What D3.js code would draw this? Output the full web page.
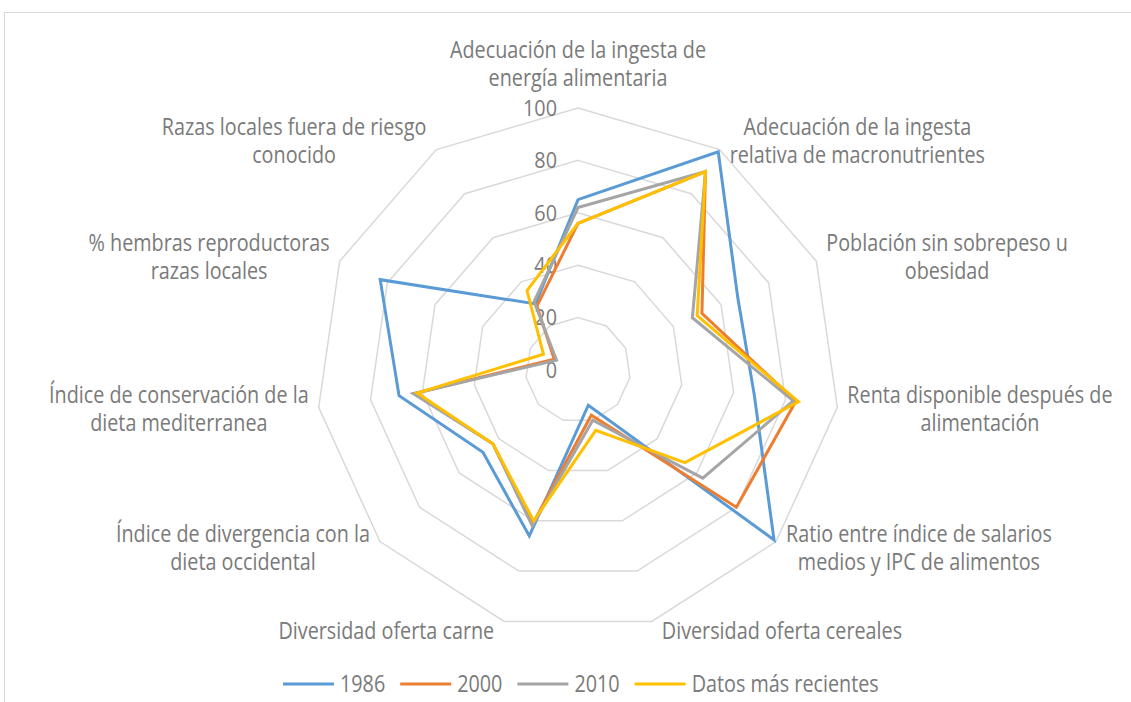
<!DOCTYPE html>
<html lang="es">
<head>
<meta charset="UTF-8">
<script src="https://d3js.org/d3.v7.min.js"></script>
<style>
  body { margin: 0; background: #fff; }
  text { font-family: "Open Sans", sans-serif; fill: #7a7a7a; }
</style>
</head>
<body>
<svg id="chart" width="1131" height="702"></svg>
<script>
// categories (each label split into its lines)
var categories = [
  ["Adecuación de la ingesta de", "energía alimentaria"],
  ["Adecuación de la ingesta", "relativa de macronutrientes"],
  ["Población sin sobrepeso u", "obesidad"],
  ["Renta disponible después de", "alimentación"],
  ["Ratio entre índice de salarios", "medios y IPC de alimentos"],
  ["Diversidad oferta cereales"],
  ["Diversidad oferta carne"],
  ["Índice de divergencia con la", "dieta occidental"],
  ["Índice de conservación de la", "dieta mediterranea"],
  ["% hembras reproductoras", "razas locales"],
  ["Razas locales fuera de riesgo", "conocido"]
];
var seriesNames = ["1986", "2000", "2010", "Datos más recientes"];
var v1986     = [65, 99, 67, 68, 99, 14, 66, 48, 69, 83, 30];
var v2000     = [56, 90, 52, 84, 80, 18, 61, 43, 63, 10, 29];
var v2010     = [62, 90, 48, 83, 63, 20, 62, 43, 63.5, 9, 31];
var vRecent   = [56, 90, 50, 85, 54, 24, 60, 43, 62, 14.5, 36];
var ticks = [0, 20, 40, 60, 80, 100];

var colors = ["#5B9BD5", "#ED7D31", "#A5A5A5", "#FFC000"];
var allSeries = [v1986, v2000, v2010, vRecent];

var svg = d3.select("#chart");
var cx = 578, cy = 370;
var r = d3.scaleLinear().domain([0, 100]).range([0, 262]);
var angle = d3.scaleLinear().domain([0, categories.length]).range([0, 2 * Math.PI]);

// narrow text (the original uses a condensed face)
var fs = 23, sx = 0.86;
function addText(parent, x, y, str, anchor, size, scale) {
  var t = parent.append("text")
    .attr("transform", "translate(" + x + "," + y + ") scale(" + scale + ",1)")
    .attr("dy", "0.35em")
    .attr("text-anchor", anchor)
    .style("font-size", size + "px")
    .text(str);
  return t;
}

function pt(i, v) {
  var a = angle(i);
  return [cx + r(v) * Math.sin(a), cy - r(v) * Math.cos(a)];
}

// chart border
svg.append("rect")
  .attr("x", 4.5).attr("y", 12.5)
  .attr("width", 1140).attr("height", 700)
  .attr("fill", "none").attr("stroke", "#d9d9d9");

// grid rings
var line = d3.line();
ticks.forEach(function(t) {
  if (t === 0) return;
  var pts = categories.map(function(c, i) { return pt(i, t); });
  svg.append("path")
    .attr("d", line(pts) + "Z")
    .attr("fill", "none")
    .attr("stroke", "#d9d9d9")
    .attr("stroke-width", 1.5);
});

// tick labels
ticks.forEach(function(d) {
  addText(svg, cx - 21, cy - r(d), d, "end", 22, 0.9);
});

// series
allSeries.forEach(function(vals, s) {
  var pts = vals.map(function(v, i) { return pt(i, v); });
  svg.append("path")
    .attr("d", line(pts) + "Z")
    .attr("fill", "none")
    .attr("stroke", colors[s])
    .attr("stroke-width", 3)
    .attr("stroke-linejoin", "miter");
});

// category labels
var lh = 28;
categories.forEach(function(lines, i) {
  var a = angle(i);
  var s = Math.sin(a), c = Math.cos(a);
  var v = pt(i, 100);
  var g = svg.append("g");
  var texts = lines.map(function(l) { return addText(g, 0, 0, l, "middle", fs, sx); });
  var w = d3.max(texts, function(t) { return t.node().getComputedTextLength(); }) * sx;
  var h = lines.length * lh;
  var bx, by;
  if (Math.abs(s) < 0.05) {
    bx = v[0];
    by = v[1] - 16 - h / 2;
  } else {
    bx = s > 0 ? v[0] + 10 + w / 2 : v[0] - 10 - w / 2;
    by = v[1] - c * 10;
  }
  texts.forEach(function(t, k) {
    t.attr("transform", "translate(" + bx + "," + (by - h / 2 + lh * k + lh / 2) + ") scale(" + sx + ",1)");
  });
});

// legend
var legend = svg.append("g");
var lx = 283, ly = 684;
seriesNames.forEach(function(name, s) {
  legend.append("line")
    .attr("x1", lx).attr("x2", lx + 51)
    .attr("y1", ly).attr("y2", ly)
    .attr("stroke", colors[s]).attr("stroke-width", 3);
  var t = addText(legend, lx + 57, ly, name, "start", fs, sx);
  lx += 57 + t.node().getComputedTextLength() * sx + 15;
});
</script>
</body>
</html>
